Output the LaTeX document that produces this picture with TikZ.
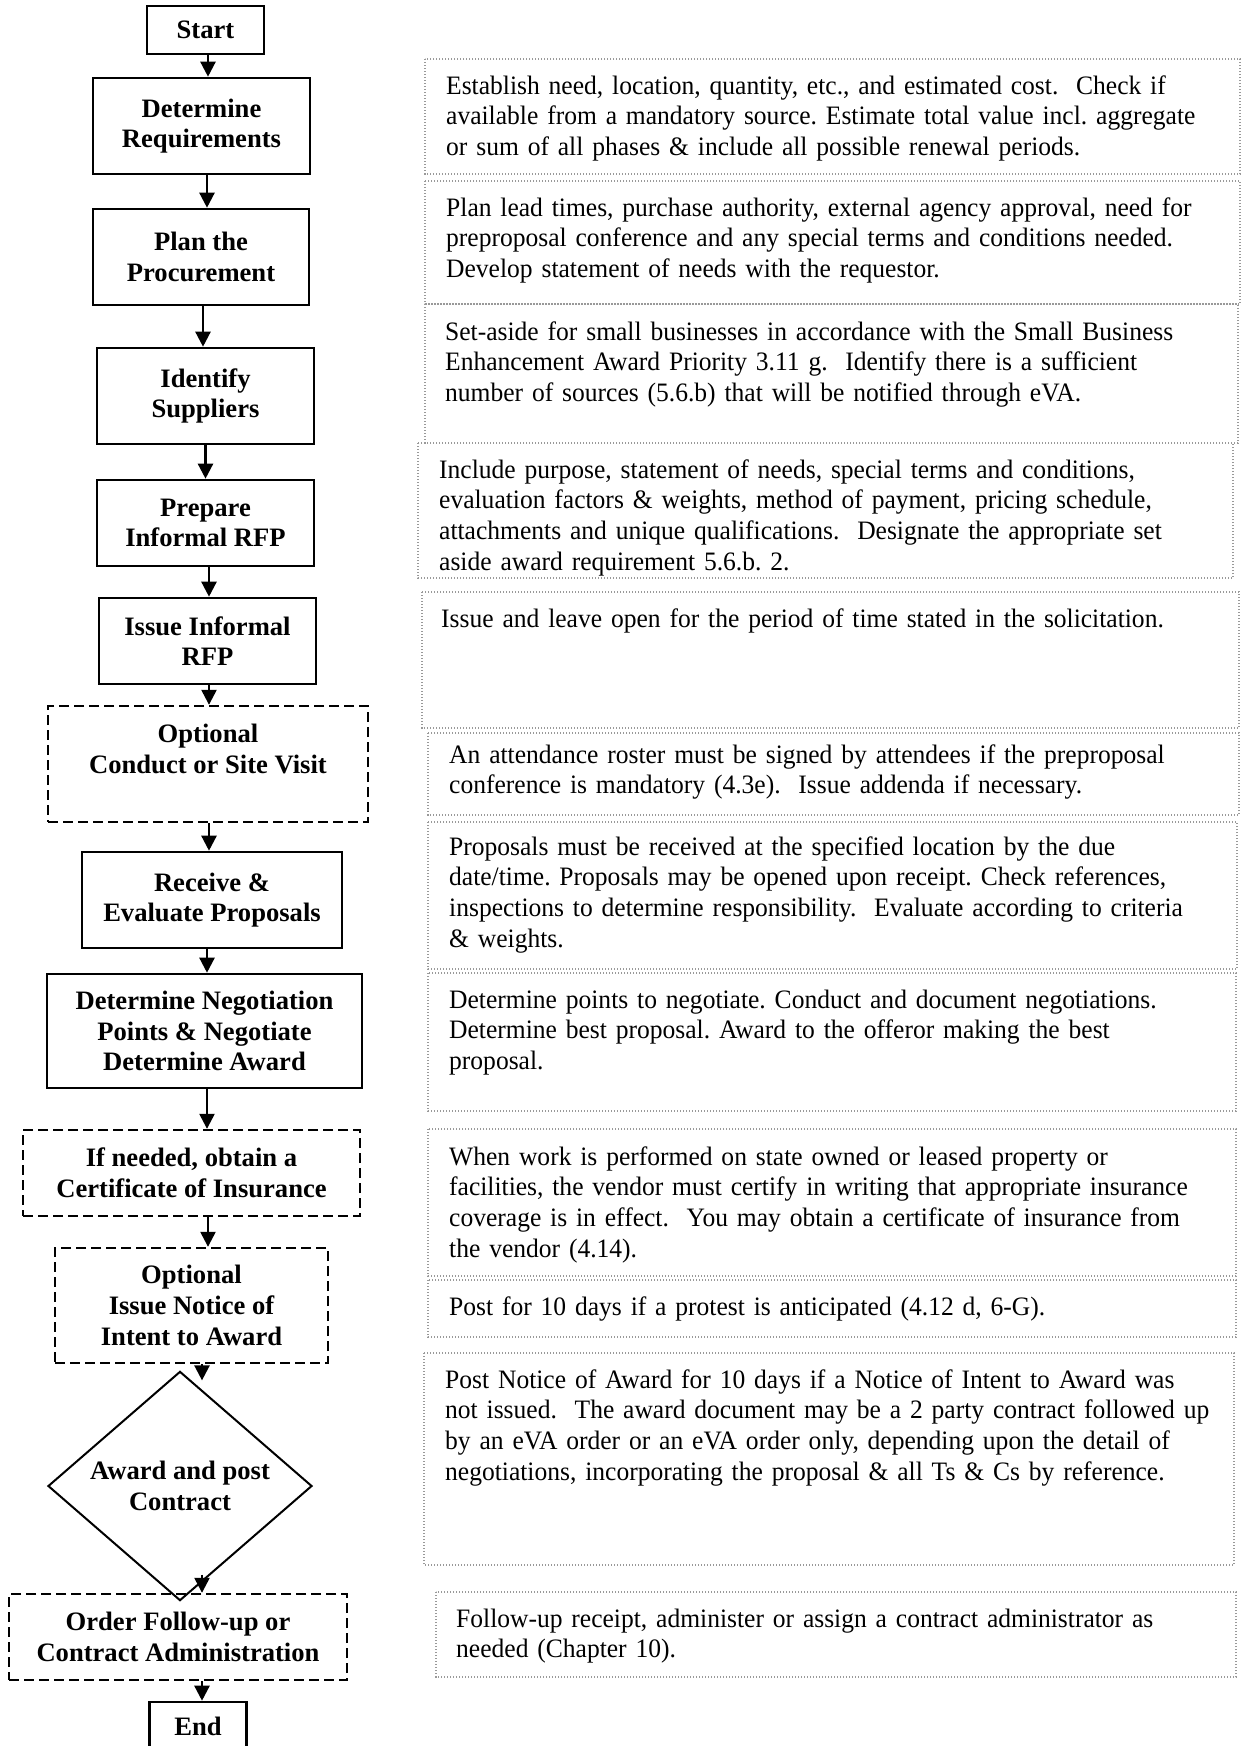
\documentclass[tikz,border=0pt]{standalone}
\usepackage{fontspec}
\setmainfont{Liberation Serif}
\newfontfamily\notefont[FakeStretch=0.96]{Liberation Serif}
\usetikzlibrary{arrows.meta,shapes.geometric,calc}

\begin{document}
\begin{tikzpicture}[x=1pt, y=-1pt,
every node/.style={font=\fontsize{26.6}{30.7}\selectfont},
box/.style={
% The shape:
rectangle, inner sep=2pt,
% The border:
draw=black, line width=2.6pt,
% The text:
align=center, font=\fontsize{26.6}{30.7}\selectfont\bfseries
},
optbox/.style={box, line width=2.4pt, dash pattern=on 10pt off 5pt},
note/.style={anchor=base west, text width=820pt, align=left, inner sep=0pt,
  font=\notefont\fontsize{26.6}{30.7}\selectfont\frenchspacing},
notebox/.style={draw=gray!80, line width=1.1pt, dash pattern=on 1.1pt off 1.9pt},
arr/.style={-{Triangle[width=15pt,length=15pt]}, line width=2.4pt}]

\useasboundingbox (0,0) rectangle (1243,1746);

	% the steps
	\node (S) [box, minimum width=117pt, minimum height=48pt] at (205.5,30) {Start};
	\node (DR) [box, minimum width=217pt, minimum height=96pt] at (201.5,126) {Determine\\Requirements};
	\node (PP) [box, minimum width=216pt, minimum height=96pt] at (201,257) {Plan the\\Procurement};
	\node (IS) [box, minimum width=217pt, minimum height=96pt] at (205.5,396) {Identify\\Suppliers};
	\node (PR) [box, minimum width=217pt, minimum height=86pt] at (205.5,523) {Prepare\\Informal RFP};
	\node (IR) [box, minimum width=217pt, minimum height=86pt] at (207.5,641) {Issue Informal\\RFP};
	\node (SV) [optbox, minimum width=320pt, minimum height=116pt] at (208,764) {Optional\\Conduct or Site Visit\\\mbox{}};
	\node (REP) [box, minimum width=260pt, minimum height=96pt] at (212,900) {Receive \&\\Evaluate Proposals};
	\node (DN) [box, minimum width=315pt, minimum height=114pt] at (204.5,1031) {Determine Negotiation\\Points \& Negotiate\\Determine Award};
	\node (CI) [optbox, minimum width=337pt, minimum height=86pt] at (191.5,1173) {If needed, obtain a\\Certificate of Insurance};
	\node (NI) [optbox, minimum width=273pt, minimum height=115pt] at (191.5,1305.5) {Optional\\Issue Notice of\\Intent to Award};
	\node (AC) [box, diamond, line width=2pt, inner sep=0pt, minimum width=264pt, minimum height=212pt] at (180,1486) {Award and post\\Contract};
	\node (OF) [optbox, minimum width=338pt, minimum height=86pt] at (178,1637) {Order Follow-up or\\Contract Administration};
	\node (E) [box, minimum width=97pt, minimum height=48pt] at (198,1726) {End};

	\coordinate (ACin) at ([yshift=-10pt]AC.north);
	\coordinate (ACout) at ([xshift=22pt, yshift=27pt]AC.south);

	% the flow
	\draw[arr] ([xshift=2.5pt]S.south) -- ([xshift=2.5pt]S.south |- DR.north);
	\draw[arr] ([xshift=5.5pt]DR.south) -- ([xshift=5.5pt]DR.south |- PP.north);
	\draw[arr] ([xshift=2pt]PP.south) -- ([xshift=2pt]PP.south |- IS.north);
	\draw[arr] (IS.south) -- (IS.south |- PR.north);
	\draw[arr] ([xshift=3.5pt]PR.south) -- ([xshift=3.5pt]PR.south |- IR.north);
	\draw[arr] ([xshift=1.5pt]IR.south) -- ([xshift=1.5pt]IR.south |- SV.north);
	\draw[arr] ([xshift=1pt]SV.south) -- ([xshift=1pt]SV.south |- REP.north);
	\draw[arr] ([xshift=-5pt]REP.south) -- ([xshift=-5pt]REP.south |- DN.north);
	\draw[arr] ([xshift=2.5pt]DN.south) -- ([xshift=2.5pt]DN.south |- CI.north);
	\draw[arr] ([xshift=16.5pt]CI.south) -- ([xshift=16.5pt]CI.south |- NI.north);
	\draw[arr] ([xshift=10.5pt]NI.south) -- ([xshift=10.5pt]NI.south |- ACin);
	\draw[arr] (ACout) -- (ACout |- OF.north);
	\draw[arr] ([xshift=24pt]OF.south) -- ([xshift=24pt]OF.south |- E.north);

	% the notes
	\draw[notebox] (425,59) rectangle (1240,174);
	\node (nDR) [note] at (446,94) {Establish need, location, quantity, etc., and estimated cost.\ \ Check if\\available from a mandatory source. Estimate total value incl. aggregate\\or sum of all phases \& include all possible renewal periods.};

	\draw[notebox] (425,181) rectangle (1240,304);
	\node (nPP) [note] at (446,216) {Plan lead times, purchase authority, external agency approval, need for\\preproposal conference and any special terms and conditions needed.\\Develop statement of needs with the requestor.};

	\draw[notebox] (425,304) rectangle (1238,443);
	\node (nIS) [note] at (445,340) {Set-aside for small businesses in accordance with the Small Business\\Enhancement Award Priority 3.11 g.\ \ Identify there is a sufficient\\number of sources (5.6.b) that will be notified through eVA.};

	\draw[notebox] (418,443) rectangle (1233,578);
	\node (nPR) [note] at (439,478) {Include purpose, statement of needs, special terms and conditions,\\evaluation factors \& weights, method of payment, pricing schedule,\\attachments and unique qualifications.\ \ Designate the appropriate set\\aside award requirement 5.6.b. 2.};

	\draw[notebox] (422,592) rectangle (1239,728);
	\node (nIR) [note] at (441,627) {Issue and leave open for the period of time stated in the solicitation.};

	\draw[notebox] (428,733) rectangle (1239,815);
	\node (nSV) [note] at (449,763) {An attendance roster must be signed by attendees if the preproposal\\conference is mandatory (4.3e).\ \ Issue addenda if necessary.};

	\draw[notebox] (428,822) rectangle (1237,969);
	\node (nREP) [note] at (449,855) {Proposals must be received at the specified location by the due\\date/time. Proposals may be opened upon receipt. Check references,\\inspections to determine responsibility.\ \ Evaluate according to criteria\\\& weights.};

	\draw[notebox] (428,973) rectangle (1236,1111);
	\node (nDN) [note] at (449,1008) {Determine points to negotiate. Conduct and document negotiations.\\Determine best proposal. Award to the offeror making the best\\proposal.};

	\draw[notebox] (428,1129) rectangle (1236,1276);
	\node (nCI) [note] at (449,1165) {When work is performed on state owned or leased property or\\facilities, the vendor must certify in writing that appropriate insurance\\coverage is in effect.\ \ You may obtain a certificate of insurance from\\the vendor (4.14).};

	\draw[notebox] (428,1280) rectangle (1236,1337);
	\node (nNI) [note] at (449,1315) {Post for 10 days if a protest is anticipated (4.12 d, 6-G).};

	\draw[notebox] (424,1353) rectangle (1234,1565);
	\node (nAC) [note] at (445,1388) {Post Notice of Award for 10 days if a Notice of Intent to Award was\\not issued.\ \ The award document may be a 2 party contract followed up\\by an eVA order or an eVA order only, depending upon the detail of\\negotiations, incorporating the proposal \& all Ts \& Cs by reference.};

	\draw[notebox] (436,1592) rectangle (1236,1677);
	\node (nOF) [note] at (456,1627) {Follow-up receipt, administer or assign a contract administrator as\\needed (Chapter 10).};
\end{tikzpicture}
\end{document}
